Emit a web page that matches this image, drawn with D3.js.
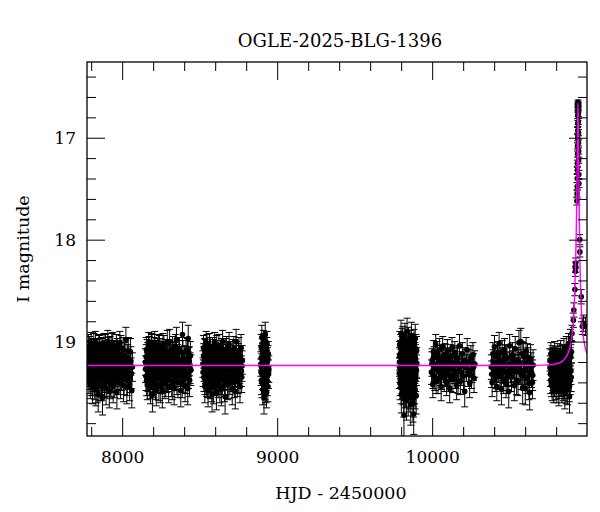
<!DOCTYPE html>
<html>
<head>
<meta charset="utf-8">
<script src="https://cdn.jsdelivr.net/npm/d3@7"></script>
<style>
  body { margin: 0; background: #fff; }
  svg { display: block; }
</style>
</head>
<body>
<div id="chart"></div>
<script>
"use strict";
(function() {

const WIDTH = 600
const HEIGHT = 512
const margin = { top: 62, bottom: 76, left: 87, right: 13 }

const FONT = "DejaVu Serif"
const MAJOR = 18
const MINOR = 9
const RADIUS = 2.8
const CAP = 3.5

const TITLE = "OGLE-2025-BLG-1396"
const XLABEL = "HJD - 2450000"
const YLABEL = "I magnitude"

// axis ranges and tick labels
const X_DOMAIN = [7773, 10999]
const Y_DOMAIN = [16.257, 19.926]
const X_MAJOR = [8000, 9000, 10000]
const X_MINOR = [7800, 8200, 8400, 8600, 8800, 9200, 9400, 9600, 9800, 10200, 10400, 10600, 10800]
const Y_MAJOR = [17, 18, 19]
const Y_MINOR = [16.4, 16.6, 16.8, 17.2, 17.4, 17.6, 17.8, 18.2, 18.4, 18.6, 18.8, 19.2, 19.4, 19.6, 19.8]

// photometry [HJD-2450000, I mag, error]
const season2017 = [
  [7776,19.18,.13],[7779,19.30,.14],[7782,19.05,.12],[7785,19.36,.15],[7788,19.22,.13],[7791,19.12,.12],
  [7794,19.41,.15],[7797,19.27,.13],[7800,19.02,.11],[7803,19.33,.14],[7806,19.19,.13],[7809,19.45,.16],
  [7812,19.09,.12],[7815,19.25,.13],[7818,19.38,.15],[7821,19.14,.12],[7824,19.29,.14],[7827,19.01,.11],
  [7830,19.47,.16],[7833,19.21,.13],[7836,19.35,.14],[7839,19.10,.12],[7842,19.26,.13],[7845,19.52,.17],
  [7848,19.16,.12],[7851,19.04,.11],[7854,19.31,.14],[7857,19.43,.15],[7860,19.20,.13],[7864,19.08,.12],
  [7867,19.37,.15],[7870,19.24,.13],[7873,19.55,.17],[7876,19.13,.12],[7880,19.28,.14],[7883,19.03,.11],
  [7886,19.40,.15],[7890,19.17,.13],[7893,19.32,.14],[7896,19.46,.16],[7900,19.11,.12],[7903,19.23,.13],
  [7907,19.00,.11],[7910,19.34,.14],[7914,19.19,.13],[7917,19.49,.16],[7921,19.07,.12],[7924,19.27,.13],
  [7928,19.39,.15],[7931,19.15,.12],[7935,19.22,.13],[7939,19.02,.11],[7942,19.44,.16],[7946,19.30,.14],
  [7950,19.12,.12],[7954,19.36,.14],[7958,19.20,.13],[7962,19.05,.12],[7966,19.50,.16],[7970,19.26,.13],
  [7975,19.14,.12],[7980,19.33,.14],[7985,19.01,.11],[7990,19.41,.15],[7995,19.18,.13],[8000,19.29,.14],
  [8006,19.08,.12],[8012,19.37,.15],[8018,19.23,.13],[8024,18.98,.12],[8030,19.45,.16],[8036,19.16,.13],
  [8042,19.31,.14],[8048,19.42,.16],[8053,19.10,.13],[8058,19.31,.15],[8062,19.48,.17],[8066,19.25,.14],
  [7777,19.26,.13],[7780,19.11,.12],[7784,19.24,.13],[7787,19.33,.14],[7790,19.07,.12],[7793,19.21,.13],
  [7796,19.15,.12],[7799,19.38,.15],[7802,19.23,.13],[7805,19.10,.12],[7808,19.29,.14],[7811,19.35,.14],
  [7814,19.17,.13],[7817,19.04,.12],[7820,19.27,.13],[7823,19.42,.15],[7826,19.19,.13],[7829,19.32,.14],
  [7832,19.09,.12],[7835,19.24,.13],[7838,19.44,.16],[7841,19.13,.12],[7844,19.30,.14],[7847,19.21,.13],
  [7850,19.37,.15],[7853,19.06,.12],[7856,19.25,.13],[7859,19.14,.12],[7862,19.34,.14],[7866,19.18,.13],
  [7869,19.43,.15],[7872,19.09,.12],[7875,19.28,.14],[7878,19.22,.13],[7882,19.36,.14],[7885,19.12,.12],
  [7888,19.26,.13],[7892,19.05,.12],[7895,19.31,.14],[7898,19.19,.13],[7902,19.39,.15],[7905,19.15,.12],
  [7909,19.27,.13],[7912,19.08,.12],[7916,19.33,.14],[7919,19.22,.13],[7923,19.41,.15],[7926,19.17,.13],
  [7930,19.29,.14],[7933,19.04,.12],[7937,19.35,.14],[7941,19.20,.13],[7944,19.11,.12],[7948,19.25,.13],
  [7952,19.40,.15],[7956,19.16,.12],[7960,19.30,.14],[7964,19.22,.13],[7968,19.09,.12],[7972,19.37,.15],
  [7977,19.24,.13],[7982,19.13,.12],[7987,19.28,.14],[7992,19.06,.12],[7997,19.34,.14],[8003,19.20,.13],
  [8009,19.43,.16],[8015,19.14,.13],[8021,19.30,.14],[8027,19.21,.13],[8033,19.38,.15],[8039,19.09,.13],
  [8045,19.25,.14],[8051,19.35,.15],[8056,19.19,.14]
]

const season2018 = [
  [8150,19.20,.13],[8153,19.34,.14],[8156,19.08,.12],[8159,19.27,.13],[8162,19.42,.15],[8165,19.13,.12],
  [8168,19.30,.14],[8171,19.02,.11],[8174,19.38,.15],[8177,19.22,.13],[8180,19.11,.12],[8183,19.45,.16],
  [8186,19.18,.13],[8189,19.33,.14],[8192,19.05,.12],[8195,19.52,.17],[8198,19.26,.13],[8201,19.14,.12],
  [8204,19.40,.15],[8207,19.21,.13],[8210,19.01,.11],[8213,19.35,.14],[8216,19.16,.12],[8220,19.47,.16],
  [8223,19.24,.13],[8226,19.09,.12],[8230,19.31,.14],[8233,19.19,.13],[8237,19.43,.15],[8240,19.06,.12],
  [8244,19.28,.13],[8248,19.37,.14],[8251,19.12,.12],[8255,19.23,.13],[8259,19.49,.16],[8263,19.03,.11],
  [8267,19.32,.14],[8271,19.17,.13],[8275,19.41,.15],[8279,19.10,.12],[8283,19.25,.13],[8287,19.36,.14],
  [8291,19.00,.11],[8295,19.21,.13],[8300,19.44,.16],[8306,19.00,.12],[8310,19.29,.14],[8315,19.15,.12],
  [8320,19.39,.15],[8325,19.07,.12],[8330,19.26,.13],[8335,19.46,.16],[8340,19.13,.12],[8345,19.34,.14],
  [8350,18.98,.12],[8355,19.22,.13],[8360,19.40,.15],[8366,19.11,.12],[8372,19.30,.14],[8378,19.48,.16],
  [8384,19.18,.13],[8389,18.93,.12],[8394,19.35,.15],[8400,19.24,.14],[8406,19.43,.16],[8412,19.09,.13],
  [8418,19.31,.15],[8423,19.46,.16],[8426,18.97,.13],[8430,19.20,.14],[8435,19.38,.16],[8440,19.14,.14],
  [8443,19.28,.15],
  [8151,19.27,.13],[8155,19.15,.12],[8158,19.38,.15],[8161,19.10,.12],[8164,19.24,.13],[8167,19.35,.14],
  [8170,19.19,.13],[8173,19.07,.12],[8176,19.29,.14],[8179,19.41,.15],[8182,19.16,.12],[8185,19.26,.13],
  [8188,19.04,.12],[8191,19.33,.14],[8194,19.21,.13],[8197,19.12,.12],[8200,19.37,.15],[8203,19.25,.13],
  [8206,19.08,.12],[8209,19.30,.14],[8212,19.18,.13],[8215,19.42,.15],[8218,19.11,.12],[8222,19.28,.13],
  [8225,19.36,.14],[8228,19.14,.12],[8232,19.23,.13],[8235,19.05,.12],[8239,19.32,.14],[8242,19.20,.13],
  [8246,19.44,.16],[8250,19.09,.12],[8253,19.27,.13],[8257,19.17,.13],[8261,19.34,.14],[8265,19.22,.13],
  [8269,19.06,.12],[8273,19.29,.14],[8277,19.19,.13],[8281,19.39,.15],[8285,19.13,.12],[8289,19.26,.13],
  [8293,19.35,.14],[8297,19.10,.12],[8303,19.24,.13],[8308,19.16,.12],[8313,19.33,.14],[8318,19.21,.13],
  [8323,19.42,.15],[8328,19.12,.12],[8333,19.30,.14],[8338,19.20,.13],[8343,19.05,.12],[8348,19.27,.13],
  [8353,19.37,.15],[8358,19.15,.12],[8363,19.25,.13],[8369,19.08,.12],[8375,19.33,.14],[8381,19.22,.13],
  [8387,19.40,.15],[8392,19.12,.13],[8397,19.29,.14],[8403,19.17,.13],[8409,19.36,.15],[8415,19.23,.14],
  [8421,19.10,.13],[8428,19.31,.15],[8433,19.19,.14],[8438,19.26,.15]
]

const season2019 = [
  [8521,19.22,.13],[8524,19.06,.12],[8527,19.35,.14],[8530,19.18,.13],[8533,19.44,.16],[8536,19.10,.12],
  [8539,19.28,.13],[8542,19.01,.11],[8545,19.39,.15],[8548,19.24,.13],[8551,19.13,.12],[8554,19.48,.16],
  [8557,19.20,.13],[8560,19.32,.14],[8563,19.04,.12],[8566,19.27,.13],[8569,19.41,.15],[8572,19.15,.12],
  [8576,19.36,.14],[8580,19.52,.17],[8583,19.08,.12],[8587,19.25,.13],[8590,19.45,.16],[8594,19.17,.13],
  [8597,19.02,.11],[8601,19.33,.14],[8605,19.21,.13],[8608,19.50,.17],[8612,19.11,.12],[8616,19.29,.14],
  [8620,19.40,.15],[8624,19.05,.12],[8628,19.23,.13],[8632,19.37,.15],[8636,19.14,.12],[8640,19.47,.16],
  [8644,19.26,.13],[8648,19.00,.11],[8652,19.34,.14],[8656,19.19,.13],[8660,19.43,.16],[8664,19.54,.17],
  [8668,19.09,.12],[8672,19.30,.14],[8676,19.16,.13],[8680,19.42,.15],[8685,19.24,.13],[8690,19.03,.12],
  [8695,19.37,.15],[8700,19.12,.12],[8705,19.28,.14],[8710,19.46,.16],[8715,19.20,.13],[8720,19.07,.12],
  [8725,19.33,.14],[8730,19.49,.17],[8735,19.00,.12],[8740,19.25,.14],[8745,19.39,.15],[8750,19.15,.13],
  [8755,19.31,.14],[8760,19.44,.16],[8764,19.21,.14],[8767,19.06,.13],[8771,19.35,.15],[8775,19.18,.14],
  [8522,19.30,.14],[8526,19.14,.12],[8529,19.26,.13],[8532,19.09,.12],[8535,19.37,.15],[8538,19.20,.13],
  [8541,19.15,.12],[8544,19.31,.14],[8547,19.05,.12],[8550,19.27,.13],[8553,19.40,.15],[8556,19.12,.12],
  [8559,19.23,.13],[8562,19.35,.14],[8565,19.17,.13],[8568,19.08,.12],[8571,19.29,.14],[8574,19.21,.13],
  [8578,19.43,.16],[8582,19.16,.12],[8585,19.33,.14],[8589,19.10,.12],[8592,19.24,.13],[8596,19.38,.15],
  [8599,19.13,.12],[8603,19.28,.14],[8606,19.19,.13],[8610,19.06,.12],[8614,19.35,.14],[8618,19.22,.13],
  [8622,19.14,.12],[8626,19.31,.14],[8630,19.44,.16],[8634,19.18,.13],[8638,19.26,.13],[8642,19.09,.12],
  [8646,19.37,.15],[8650,19.21,.13],[8654,19.13,.12],[8658,19.29,.14],[8662,19.39,.15],[8666,19.16,.13],
  [8670,19.24,.13],[8674,19.07,.12],[8678,19.33,.14],[8683,19.19,.13],[8688,19.41,.15],[8693,19.12,.12],
  [8698,19.27,.14],[8703,19.21,.13],[8708,19.35,.14],[8713,19.10,.12],[8718,19.25,.13],[8723,19.40,.15],
  [8728,19.17,.13],[8733,19.30,.14],[8738,19.13,.13],[8743,19.22,.14],[8748,19.36,.15],[8753,19.09,.13],
  [8758,19.27,.14],[8762,19.18,.14],[8769,19.29,.15],[8773,19.24,.15]
]

const season2020 = [
  [8895,19.22,.12],[8897,19.05,.12],[8899,19.38,.14],[8901,18.96,.12],[8903,19.28,.13],[8905,19.14,.12],
  [8907,19.47,.15],[8909,19.20,.13],[8911,19.01,.12],[8913,19.33,.14],[8915,19.55,.16],[8917,19.10,.12],
  [8919,19.26,.13],[8921,19.42,.15],[8923,18.93,.12],[8925,19.17,.12],[8927,19.36,.14],[8929,19.24,.13],
  [8931,19.50,.15],[8933,19.08,.12],[8935,19.30,.14],[8937,19.19,.13],[8940,19.44,.15],[8943,19.12,.12],
  [8946,19.27,.13],
  [8896,19.30,.13],[8898,19.16,.12],[8900,19.25,.13],[8902,19.40,.15],[8904,19.09,.12],[8906,19.33,.14],
  [8908,19.13,.12],[8910,19.28,.13],[8912,19.21,.13],[8914,19.04,.12],[8916,19.37,.14],[8918,19.19,.13],
  [8920,19.31,.14],[8922,19.11,.12],[8924,19.25,.13],[8926,19.45,.15],[8928,19.15,.12],[8930,19.34,.14],
  [8932,19.22,.13],[8934,19.02,.12],[8936,19.39,.14],[8938,19.26,.13],[8941,19.17,.13],[8944,19.32,.14]
]

const season2022 = [
  [9789,19.20,.14],[9791,19.03,.13],[9793,19.41,.16],[9795,19.12,.13],[9797,19.30,.15],[9799,18.92,.13],
  [9801,19.52,.18],[9803,19.24,.14],[9805,19.08,.13],[9807,19.36,.15],[9809,19.17,.14],[9811,18.98,.13],
  [9813,19.45,.17],[9815,19.27,.14],[9818,19.72,.24],[9820,19.14,.14],[9822,19.33,.15],[9824,18.95,.13],
  [9826,19.48,.17],[9828,19.21,.14],[9830,19.05,.13],[9832,19.39,.16],[9834,19.58,.19],[9836,19.16,.14],
  [9838,18.90,.13],[9840,19.29,.15],[9842,19.43,.16],[9844,19.10,.13],[9846,19.25,.14],[9848,18.99,.13],
  [9850,19.51,.18],[9852,19.34,.15],[9854,19.19,.14],[9856,19.02,.13],[9858,19.40,.16],[9860,19.13,.14],
  [9862,19.62,.20],[9864,19.28,.15],[9866,18.94,.13],[9868,19.22,.14],[9870,19.46,.17],[9872,19.07,.13],
  [9874,19.35,.15],[9876,19.60,.19],[9878,19.18,.14],[9881,19.71,.20],[9883,19.01,.13],[9885,19.31,.15],
  [9887,19.44,.17],[9889,19.15,.14],[9891,18.97,.14],[9893,19.38,.16],[9895,19.24,.15],[9897,19.53,.18],
  [9899,19.09,.14],
  [9788,19.31,.15],[9790,19.14,.14],[9792,19.26,.14],[9794,19.37,.16],[9796,19.06,.13],[9798,19.22,.14],
  [9800,19.44,.17],[9802,19.16,.14],[9804,19.32,.15],[9806,19.00,.13],[9808,19.25,.14],[9810,19.40,.16],
  [9812,19.11,.13],[9814,19.20,.14],[9816,19.35,.15],[9817,19.55,.19],[9819,19.07,.13],[9821,19.28,.15],
  [9823,19.42,.16],[9825,19.18,.14],[9827,19.33,.15],[9829,19.12,.14],[9831,19.23,.14],[9833,19.47,.17],
  [9835,19.04,.13],[9837,19.30,.15],[9839,19.20,.14],[9841,19.36,.16],[9843,19.15,.14],[9845,19.55,.18],
  [9847,19.26,.14],[9849,19.09,.13],[9851,19.41,.16],[9853,19.23,.14],[9855,19.13,.14],[9857,19.31,.15],
  [9859,19.49,.17],[9861,19.19,.14],[9863,19.05,.13],[9865,19.37,.16],[9867,19.27,.15],[9869,19.14,.14],
  [9871,19.32,.15],[9873,19.22,.14],[9875,19.45,.17],[9877,19.10,.14],[9879,19.29,.15],[9880,19.55,.19],
  [9882,19.20,.14],[9884,19.39,.16],[9886,19.12,.14],[9888,19.26,.15],[9890,19.48,.18],[9892,19.17,.14],
  [9894,19.33,.16],[9896,19.07,.14],[9898,19.28,.15],[9900,19.21,.15]
]

const season2023 = [
  [9996,19.30,.12],[10000,19.18,.11],[10004,19.42,.13],[10008,19.10,.11],[10013,19.27,.12],[10018,19.35,.13],
  [10023,19.03,.10],[10028,19.22,.12],[10033,19.15,.11],[10038,19.38,.13],[10043,19.25,.12],[10048,19.08,.11],
  [10053,19.31,.12],[10058,19.44,.14],[10063,19.19,.11],[10068,19.05,.10],[10073,19.28,.12],[10078,19.36,.13],
  [10083,19.13,.11],[10088,19.23,.12],[10093,19.40,.13],[10098,19.09,.11],[10103,19.32,.12],[10108,19.20,.11],
  [10113,19.46,.14],[10118,19.14,.11],[10123,19.26,.12],[10128,19.06,.10],[10134,19.37,.13],[10140,19.21,.12],
  [10146,19.11,.11],[10152,19.33,.13],[10158,19.43,.14],[10164,19.17,.11],[10170,19.29,.12],[10176,19.04,.11],
  [10182,19.39,.13],[10188,19.24,.12],[10195,19.12,.11],[10202,19.34,.13],[10210,19.49,.15],[10218,19.20,.12],
  [10226,19.08,.11],[10234,19.31,.13],[10242,19.41,.14],[10250,19.16,.12],[10258,19.27,.13],[10263,19.13,.12],
  [10270,19.36,.14],[10275,19.22,.13],
  [9998,19.22,.12],[10006,19.33,.13],[10011,19.16,.11],[10016,19.26,.12],[10026,19.38,.13],[10031,19.11,.11],
  [10041,19.29,.12],[10051,19.19,.11],[10061,19.34,.13],[10071,19.14,.11],[10081,19.25,.12],[10091,19.31,.12],
  [10101,19.17,.11],[10111,19.27,.12],[10121,19.36,.13],[10131,19.21,.12],[10143,19.29,.12],[10155,19.15,.11],
  [10167,19.38,.13],[10179,19.22,.12],[10191,19.30,.13],[10206,19.18,.12],[10222,19.26,.13],[10238,19.21,.13],
  [10254,19.33,.13],[10267,19.25,.13]
]

const season2024 = [
  [10382,19.25,.12],[10387,19.40,.14],[10392,19.12,.11],[10397,19.30,.12],[10402,19.05,.11],[10407,19.36,.13],
  [10412,19.21,.12],[10417,19.44,.14],[10422,19.15,.11],[10427,19.28,.12],[10432,19.02,.11],[10437,19.34,.13],
  [10442,19.19,.12],[10447,19.47,.15],[10452,19.10,.11],[10457,19.26,.12],[10462,19.38,.13],[10467,19.08,.11],
  [10472,19.23,.12],[10477,19.41,.14],[10482,19.16,.12],[10488,19.31,.13],[10494,19.49,.16],[10500,19.04,.11],
  [10506,19.27,.13],[10512,19.35,.14],[10518,19.13,.12],[10524,19.22,.13],[10530,19.43,.15],[10536,19.07,.12],
  [10542,19.29,.13],[10548,19.18,.12],[10554,19.39,.14],[10560,19.01,.12],[10566,19.24,.13],[10572,19.00,.13],
  [10578,19.33,.14],[10584,19.45,.16],[10590,19.14,.13],[10596,19.28,.14],[10601,19.46,.16],[10606,19.09,.13],
  [10612,19.36,.15],[10618,19.20,.14],[10624,19.41,.16],[10629,19.50,.17],[10635,19.17,.14],[10641,19.30,.15],
  [10647,19.40,.16],[10651,19.23,.15],
  [10384,19.32,.13],[10394,19.20,.12],[10404,19.27,.12],[10414,19.33,.13],[10424,19.11,.11],[10434,19.24,.12],
  [10444,19.31,.13],[10454,19.18,.12],[10464,19.29,.12],[10474,19.14,.11],[10485,19.35,.13],[10497,19.22,.12],
  [10509,19.30,.13],[10521,19.17,.12],[10533,19.26,.13],[10545,19.38,.14],[10557,19.20,.12],[10569,19.29,.13],
  [10581,19.12,.12],[10593,19.34,.14],[10604,19.24,.14],[10615,19.15,.13],[10627,19.30,.15],[10638,19.25,.14],
  [10649,19.33,.15]
]

const season2025 = [
  [10760,19.18,.11],[10763,19.32,.12],[10766,19.12,.11],[10769,19.41,.13],[10772,19.25,.12],[10775,19.15,.11],
  [10778,19.37,.13],[10781,19.28,.12],[10784,19.46,.14],[10787,19.20,.12],[10790,19.11,.11],[10793,19.34,.13],
  [10796,19.23,.12],[10799,19.43,.14],[10802,19.16,.11],[10805,19.30,.12],[10808,19.38,.13],[10811,19.13,.11],
  [10814,19.26,.12],[10817,19.48,.15],[10820,19.19,.12],[10823,19.33,.13],[10826,19.40,.14],[10829,19.10,.11],
  [10832,19.28,.12],[10835,19.22,.12],[10838,19.45,.15],[10841,19.14,.11],[10844,19.35,.13],[10847,19.27,.12],
  [10850,19.08,.11],[10853,19.42,.14],[10856,19.50,.16],[10859,19.20,.12],[10862,19.31,.13],[10865,19.05,.10],
  [10868,19.38,.14],[10871,19.15,.11],[10874,19.47,.15],[10877,19.25,.12],[10880,19.02,.10],[10883,19.36,.13],
  [10886,19.54,.16],[10889,19.12,.11],[10892,18.97,.09],[10895,19.29,.13],
  [10761,19.26,.12],[10765,19.38,.13],[10768,19.20,.12],[10771,19.31,.12],[10774,19.44,.14],[10777,19.17,.11],
  [10780,19.35,.13],[10783,19.23,.12],[10786,19.30,.12],[10789,19.40,.14],[10792,19.19,.12],[10795,19.27,.12],
  [10798,19.36,.13],[10801,19.24,.12],[10804,19.45,.15],[10807,19.21,.12],[10810,19.33,.13],[10813,19.18,.11],
  [10816,19.29,.12],[10819,19.42,.14],[10822,19.24,.12],[10825,19.15,.11],[10828,19.36,.13],[10831,19.21,.12],
  [10834,19.39,.14],[10837,19.27,.12],[10840,19.33,.13],[10843,19.19,.12],[10846,19.44,.14],[10849,19.26,.12],
  [10852,19.34,.13],[10855,19.16,.11],[10858,19.39,.14],[10861,19.24,.12],[10864,19.46,.15],[10867,19.22,.12],
  [10870,19.32,.13],[10873,19.28,.13],[10876,19.41,.15],[10879,19.18,.12],[10882,19.30,.13],[10885,19.44,.15],
  [10888,19.26,.13],[10891,19.38,.14],[10894,19.15,.12],[10897,19.35,.14],[10899,19.10,.11],
  // rise, peak and fall
  [10902,18.92,.08],[10911,18.79,.07],[10914,18.69,.07],[10921,18.49,.06],[10924,18.31,.05],[10925,18.27,.05],
  [10926,18.23,.05],[10934,17.62,.04],[10935,17.55,.04],[10936,17.48,.04],[10936,17.40,.04],[10937,17.32,.03],
  [10937,17.25,.03],[10938,17.16,.03],[10938,17.08,.03],[10939,17.00,.03],[10939,16.93,.03],[10940,16.86,.03],
  [10940,16.78,.03],[10941,16.72,.02],[10941,16.68,.02],[10941,16.65,.02],[10942,16.67,.02],[10942,16.70,.02],
  [10943,16.76,.03],[10943,16.84,.03],[10944,16.95,.03],[10944,17.05,.03],[10945,17.13,.03],[10945,17.22,.03],
  [10946,17.36,.04],[10947,17.45,.04],[10952,18.00,.05],[10953,18.12,.05],[10962,18.56,.07],[10969,18.85,.08],
  [10976,18.82,.08],[10990,18.85,.09]
]

// model light curve [HJD-2450000, I mag]
const modelCurve = [
  [7773,19.235],[10600,19.234],[10750,19.228],[10820,19.21],[10860,19.16],[10885,19.08],[10900,18.97],
  [10910,18.82],[10918,18.6],[10925,18.25],[10930,17.9],[10934,17.45],[10937,17.1],[10939,16.85],
  [10941,16.66],[10943,16.85],[10945,17.2],[10948,17.6],[10952,18.1],[10958,18.5],[10966,18.8],
  [10980,19.0],[10999,19.12]
]

const seasons = [season2017, season2018, season2019, season2020, season2022, season2023, season2024, season2025]
const points = seasons.flat()

const svg = d3.select("#chart").append("svg")
    .attr("width", WIDTH)
    .attr("height", HEIGHT)

const x_scale = d3.scaleLinear().domain(X_DOMAIN).range([margin.left, WIDTH - margin.right])
const y_scale = d3.scaleLinear().domain(Y_DOMAIN).range([margin.top, HEIGHT - margin.bottom])

const x0 = margin.left, x1 = WIDTH - margin.right
const y0 = margin.top, y1 = HEIGHT - margin.bottom

svg.append("clipPath").attr("id", "frame-clip")
  .append("rect")
    .attr("x", x0).attr("y", y0)
    .attr("width", x1 - x0).attr("height", y1 - y0)

// data: error bars with caps, then dots
let plot = svg.append("g").attr("clip-path", "url(#frame-clip)")

plot.append("g")
    .attr("fill", "none")
    .attr("stroke", "black")
    .attr("stroke-width", 1)
  .selectAll("path")
  .data(points)
  .join("path")
    .attr("d", d => {
        let x = x_scale(d[0])
        let ya = y_scale(d[1] - d[2]), yb = y_scale(d[1] + d[2])
        return `M${x - CAP},${ya}H${x + CAP}M${x},${ya}V${yb}M${x - CAP},${yb}H${x + CAP}`
    })

plot.append("g")
  .selectAll("circle")
  .data(points)
  .join("circle")
    .attr("cx", d => x_scale(d[0]))
    .attr("cy", d => y_scale(d[1]))
    .attr("r", RADIUS)
    .attr("fill", "black")

plot.append("path")
    .datum(modelCurve)
    .attr("fill", "none")
    .attr("stroke", "#ff00ff")
    .attr("stroke-width", 1.4)
    .attr("d", d3.line()
        .x(d => x_scale(d[0]))
        .y(d => y_scale(d[1]))
        .curve(d3.curveMonotoneX))

// axes: inward ticks on all four sides
function ticks(axis, values, size, pos, labels) {
    let g = svg.append("g")
        .attr("transform", pos)
        .call(axis.tickValues(values).tickSizeInner(-size).tickSizeOuter(0)
            .tickFormat(labels ? d3.format("d") : ""))
    g.select(".domain").remove()
    g.attr("font-family", FONT).attr("font-size", 17)
    g.selectAll("line").attr("stroke-width", 1)
    return g
}

ticks(d3.axisBottom(x_scale).tickPadding(15), X_MAJOR, MAJOR, `translate(0,${y1})`, true)
ticks(d3.axisBottom(x_scale), X_MINOR, MINOR, `translate(0,${y1})`, false)
ticks(d3.axisTop(x_scale), X_MAJOR, MAJOR, `translate(0,${y0})`, false)
ticks(d3.axisTop(x_scale), X_MINOR, MINOR, `translate(0,${y0})`, false)
ticks(d3.axisLeft(y_scale).tickPadding(11), Y_MAJOR, MAJOR, `translate(${x0},0)`, true)
ticks(d3.axisLeft(y_scale), Y_MINOR, MINOR, `translate(${x0},0)`, false)
ticks(d3.axisRight(y_scale), Y_MAJOR, MAJOR, `translate(${x1},0)`, false)
ticks(d3.axisRight(y_scale), Y_MINOR, MINOR, `translate(${x1},0)`, false)

svg.append("rect")
    .attr("x", x0).attr("y", y0)
    .attr("width", x1 - x0).attr("height", y1 - y0)
    .attr("fill", "none")
    .attr("stroke", "black")
    .attr("stroke-width", 1.3)

// labels
svg.append("text").text(TITLE)
    .attr("x", (x0 + x1) / 2 + 3).attr("y", 47)
    .attr("text-anchor", "middle")
    .attr("font-family", FONT).attr("font-size", 18)

svg.append("text").text(XLABEL)
    .attr("x", (x0 + x1) / 2 + 4).attr("y", 499)
    .attr("text-anchor", "middle")
    .attr("font-family", FONT).attr("font-size", 17.5)

svg.append("text").text(YLABEL)
    .attr("transform", `translate(29, ${(y0 + y1) / 2}) rotate(-90)`)
    .attr("text-anchor", "middle")
    .attr("font-family", FONT).attr("font-size", 17.5)

})();
</script>
</body>
</html>
